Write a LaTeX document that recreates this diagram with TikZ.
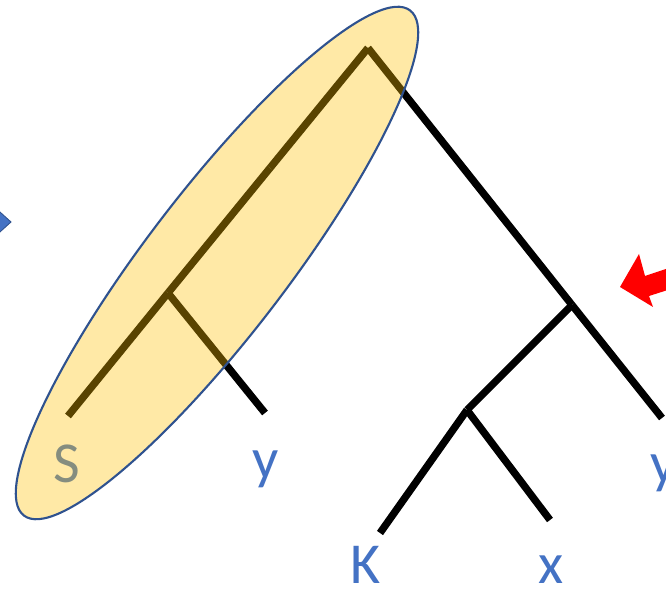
\documentclass[tikz,border=0pt]{standalone}
\usepackage{fontspec}
\setmainfont{Carlito}
\usepackage{tikz}
\usetikzlibrary{positioning}
\definecolor{cLeaf}{RGB}{68,114,196}
\definecolor{cRim}{RGB}{47,82,143}
\definecolor{cGold}{RGB}{255,192,0}
\tikzset{
	branch/.style ={line width=4.2pt, black},
	leaf/.style   ={text=cLeaf, font=\fontsize{33}{40}\selectfont, anchor=base, inner sep=0pt},
	subtree/.style={draw=cRim, line width=1.2pt, fill=cGold, fill opacity=0.35},
	pointer/.style={line width=0.5pt, line join=miter},
}

\begin{document}
\begin{tikzpicture}[x=0.02cm, y=-0.02cm]
	\useasboundingbox (0,0) rectangle (666,590);
	\clip (0,0) rectangle (666,590);
	\coordinate (root) at (368,48);
	\coordinate (mid)  at (270,168);
	\coordinate (ja)   at (168,293);
	\coordinate (ea)   at (68,416);
	\coordinate (eb)   at (265,413);
	\coordinate (jb)   at (572,305);
	\coordinate (ec)   at (662,418);
	\coordinate (jc)   at (467,410);
	\coordinate (ed)   at (380,533);
	\coordinate (ee)   at (550,520);
	\draw[branch] (root) -- (mid);
	\draw[branch] (mid) -- (ja);
	\draw[branch] (ja) -- (ea);
	\draw[branch] (ja) -- (eb);
	\draw[branch] (root) -- (jb);
	\draw[branch] (jb) -- (ec);
	\draw[branch] (jb) -- (jc);
	\draw[branch] (jc) -- (ed);
	\draw[branch] (jc) -- (ee);
	\node[leaf] (ls)  at (67,483)  {S};
	\node[leaf] (ly)  at (266,479) {y};
	\node[leaf] (lk)  at (366,584) {K};
	\node[leaf] (lx)  at (551,584) {x};
	\node[leaf] (ly2) at (664,483) {y};
	\draw[subtree, rotate around={52.6:(217,263)}] (217,263) ellipse [x radius=6.36cm, y radius=1.42cm];
	\filldraw[pointer, fill=cLeaf, draw=cRim] (-20,194) -- (11,222) -- (-20,250) -- cycle;
	\fill[red] (620,287) -- (639,254) -- (645,276) -- (690,261) -- (696,281) -- (649,296) -- (653,307) -- cycle;
\end{tikzpicture}
\end{document}
